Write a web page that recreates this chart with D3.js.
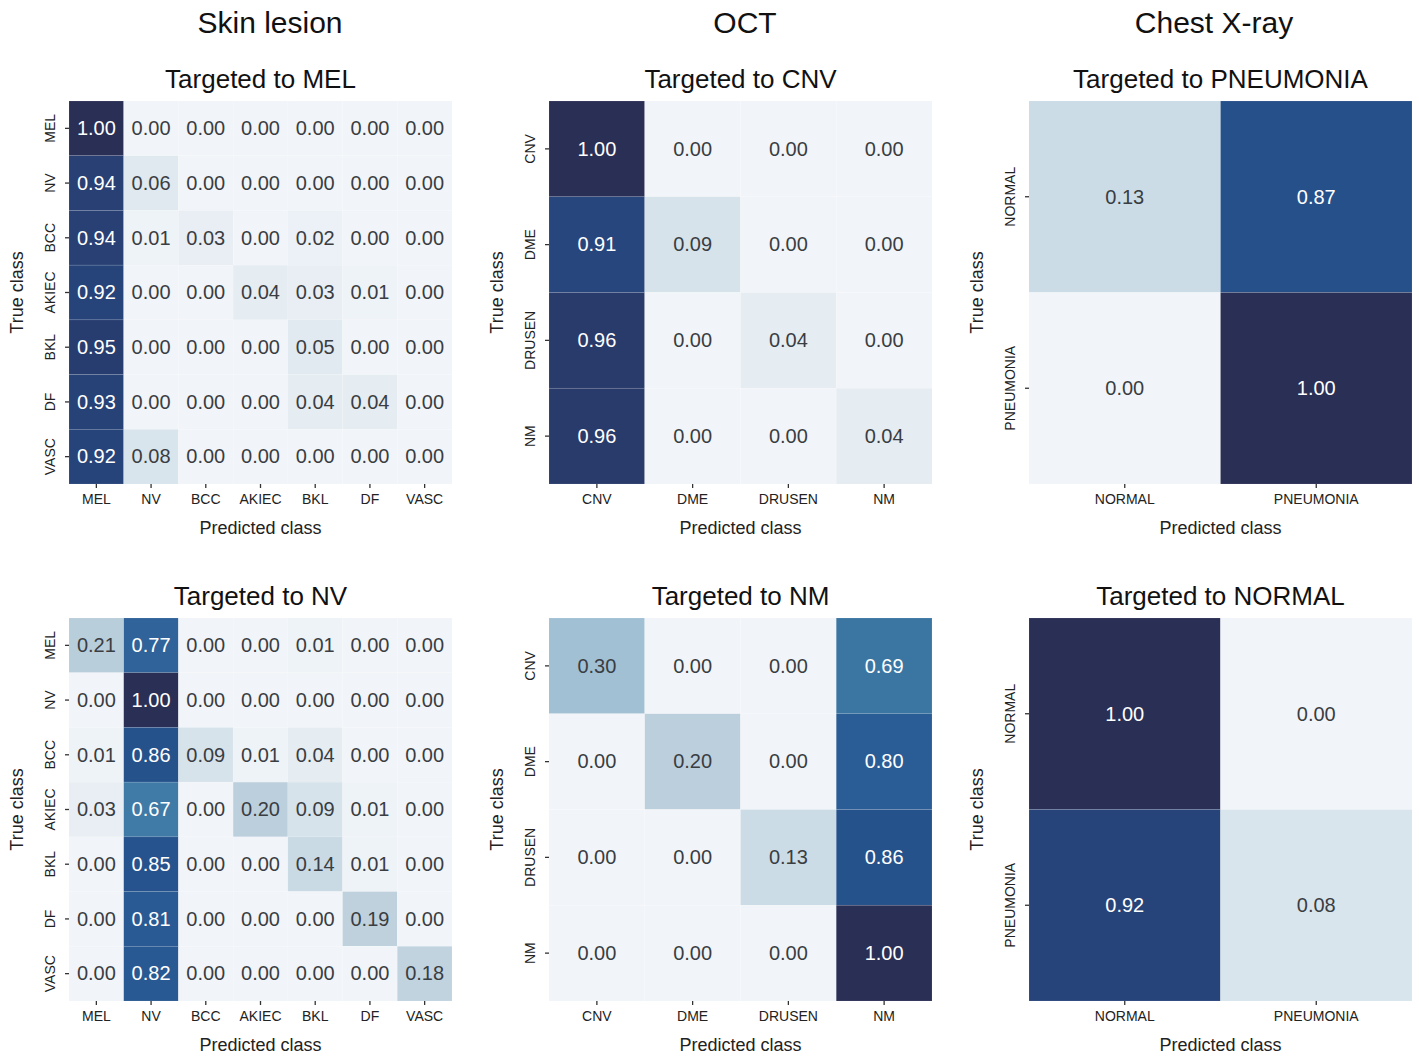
<!DOCTYPE html>
<html>
<head>
<meta charset="utf-8">
<script src="https://cdn.jsdelivr.net/npm/d3@7"></script>
<style>
  html, body { margin: 0; padding: 0; background: #ffffff; }
  svg text { font-family: "Liberation Sans", Arial, Helvetica, sans-serif; }
</style>
</head>
<body>
<svg id="fig" width="1419" height="1063"></svg>
<script>
// Class labels for each dataset
const skinClasses = ["MEL", "NV", "BCC", "AKIEC", "BKL", "DF", "VASC"];
const octClasses = ["CNV", "DME", "DRUSEN", "NM"];
const cxrClasses = ["NORMAL", "PNEUMONIA"];

// Column headings (datasets) and panel titles
const datasetTitles = ["Skin lesion", "OCT", "Chest X-ray"];
const panelTitles = [
  ["Targeted to MEL", "Targeted to CNV", "Targeted to PNEUMONIA"],
  ["Targeted to NV", "Targeted to NM", "Targeted to NORMAL"]
];

// Confusion matrices (rows = true class, columns = predicted class)
const skinToMEL = [
  [1.00, 0.00, 0.00, 0.00, 0.00, 0.00, 0.00],
  [0.94, 0.06, 0.00, 0.00, 0.00, 0.00, 0.00],
  [0.94, 0.01, 0.03, 0.00, 0.02, 0.00, 0.00],
  [0.92, 0.00, 0.00, 0.04, 0.03, 0.01, 0.00],
  [0.95, 0.00, 0.00, 0.00, 0.05, 0.00, 0.00],
  [0.93, 0.00, 0.00, 0.00, 0.04, 0.04, 0.00],
  [0.92, 0.08, 0.00, 0.00, 0.00, 0.00, 0.00]
];
const skinToNV = [
  [0.21, 0.77, 0.00, 0.00, 0.01, 0.00, 0.00],
  [0.00, 1.00, 0.00, 0.00, 0.00, 0.00, 0.00],
  [0.01, 0.86, 0.09, 0.01, 0.04, 0.00, 0.00],
  [0.03, 0.67, 0.00, 0.20, 0.09, 0.01, 0.00],
  [0.00, 0.85, 0.00, 0.00, 0.14, 0.01, 0.00],
  [0.00, 0.81, 0.00, 0.00, 0.00, 0.19, 0.00],
  [0.00, 0.82, 0.00, 0.00, 0.00, 0.00, 0.18]
];
const octToCNV = [
  [1.00, 0.00, 0.00, 0.00],
  [0.91, 0.09, 0.00, 0.00],
  [0.96, 0.00, 0.04, 0.00],
  [0.96, 0.00, 0.00, 0.04]
];
const octToNM = [
  [0.30, 0.00, 0.00, 0.69],
  [0.00, 0.20, 0.00, 0.80],
  [0.00, 0.00, 0.13, 0.86],
  [0.00, 0.00, 0.00, 1.00]
];
const cxrToPNEUMONIA = [
  [0.13, 0.87],
  [0.00, 1.00]
];
const cxrToNORMAL = [
  [1.00, 0.00],
  [0.92, 0.08]
];

// Sequential palette: pale blue-grey to deep navy
const colorStops = [0.00, 0.04, 0.08, 0.13, 0.20, 0.30, 0.50, 0.69, 0.80, 0.87, 0.92, 0.96, 1.00];
const colorValues = ["#f1f5f9", "#e5ecf2", "#d9e5ec", "#cbdce6", "#bccfdc", "#a1c0d4",
                     "#6e9dc0", "#3b76a3", "#2a5c95", "#25508a", "#27447a", "#283b6b", "#2a2f55"];
const color = d3.scaleLinear().domain(colorStops).range(colorValues).interpolate(d3.interpolateRgb);

// Layout
const colX = [69, 549, 1029];
const rowY = [101, 618];
const side = 383;

const panels = [
  { row: 0, col: 0, classes: skinClasses, data: skinToMEL },
  { row: 0, col: 1, classes: octClasses, data: octToCNV },
  { row: 0, col: 2, classes: cxrClasses, data: cxrToPNEUMONIA },
  { row: 1, col: 0, classes: skinClasses, data: skinToNV },
  { row: 1, col: 1, classes: octClasses, data: octToNM },
  { row: 1, col: 2, classes: cxrClasses, data: cxrToNORMAL }
];

const svg = d3.select("#fig");

// Dataset headings above each column
const headingCenters = [270, 745, 1214];
datasetTitles.forEach((t, i) => {
  svg.append("text")
    .attr("x", headingCenters[i]).attr("y", 33)
    .attr("text-anchor", "middle")
    .attr("font-size", 30)
    .attr("fill", "#111")
    .text(t);
});

panels.forEach(p => {
  const x0 = colX[p.col], y0 = rowY[p.row];
  const g = svg.append("g").attr("transform", `translate(${x0},${y0})`);

  const x = d3.scaleBand().domain(p.classes).range([0, side]);
  const y = d3.scaleBand().domain(p.classes).range([0, side]);

  const cells = [];
  p.data.forEach((r, i) => r.forEach((v, j) => cells.push({ t: p.classes[i], pr: p.classes[j], v })));

  g.selectAll("rect.cell").data(cells).join("rect")
    .attr("class", "cell")
    .attr("x", d => x(d.pr)).attr("y", d => y(d.t))
    .attr("width", x.bandwidth()).attr("height", y.bandwidth())
    .attr("fill", d => color(d.v))
    .attr("stroke", "rgba(255,255,255,0.18)")
    .attr("stroke-width", 0.6);

  g.selectAll("text.val").data(cells).join("text")
    .attr("class", "val")
    .attr("x", d => x(d.pr) + x.bandwidth() / 2)
    .attr("y", d => y(d.t) + y.bandwidth() / 2)
    .attr("dy", "0.34em")
    .attr("text-anchor", "middle")
    .attr("font-size", 20)
    .attr("fill", d => d.v > 0.5 ? "#ffffff" : "#3a3d42")
    .text(d => d.v.toFixed(2));

  // Axes
  const xAxis = g.append("g").attr("transform", `translate(0,${side})`)
    .call(d3.axisBottom(x).tickSize(4).tickPadding(6));
  xAxis.select(".domain").remove();
  xAxis.selectAll(".tick line").attr("stroke", "#333").attr("stroke-width", 1.3);
  xAxis.selectAll(".tick text").attr("font-size", 14).attr("fill", "#222")
    .attr("font-family", "'Liberation Sans', Arial, sans-serif");

  const yAxis = g.append("g").call(d3.axisLeft(y).tickSize(4).tickPadding(6));
  yAxis.select(".domain").remove();
  yAxis.selectAll(".tick line").attr("stroke", "#333").attr("stroke-width", 1.3);
  yAxis.selectAll(".tick text")
    .attr("font-size", 14).attr("fill", "#222")
    .attr("font-family", "'Liberation Sans', Arial, sans-serif")
    .attr("text-anchor", "middle")
    .attr("x", null).attr("dy", null)
    .attr("transform", "translate(-19,0) rotate(-90)")
    .attr("dominant-baseline", "central");

  // Panel title
  g.append("text")
    .attr("x", side / 2).attr("y", -13)
    .attr("text-anchor", "middle")
    .attr("font-size", 26)
    .attr("fill", "#111")
    .text(panelTitles[p.row][p.col]);

  // Axis titles
  g.append("text")
    .attr("x", side / 2).attr("y", side + 50)
    .attr("text-anchor", "middle")
    .attr("font-size", 18)
    .attr("fill", "#222")
    .text("Predicted class");

  g.append("text")
    .attr("transform", `translate(-52,${side / 2}) rotate(-90)`)
    .attr("text-anchor", "middle")
    .attr("dominant-baseline", "central")
    .attr("font-size", 18)
    .attr("fill", "#222")
    .text("True class");
});
</script>
</body>
</html>
